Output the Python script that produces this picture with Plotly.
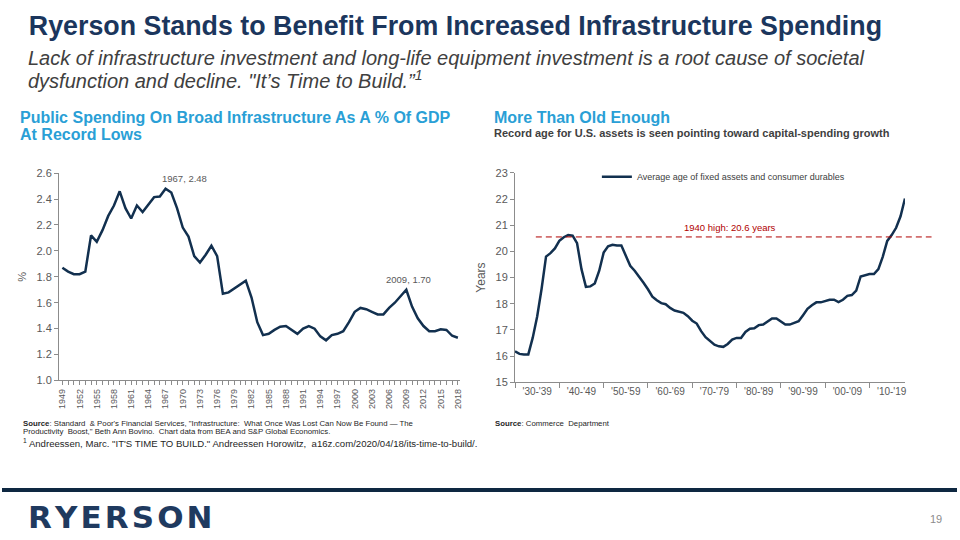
import plotly.graph_objects as go

# ---------------- data ----------------
gdp_years = list(range(1949, 2019))
gdp_share = [1.87, 1.84, 1.82, 1.82, 1.84, 2.12, 2.07, 2.16, 2.27, 2.35,
             2.46, 2.33, 2.25, 2.35, 2.30, 2.36, 2.415, 2.42, 2.48, 2.45,
             2.33, 2.18, 2.11, 1.96, 1.91, 1.97, 2.04, 1.96, 1.67, 1.68,
             1.71, 1.74, 1.77, 1.64, 1.45, 1.35, 1.36, 1.39, 1.415, 1.42,
             1.39, 1.36, 1.40, 1.42, 1.40, 1.34, 1.31, 1.35, 1.36, 1.38,
             1.45, 1.53, 1.56, 1.55, 1.53, 1.51, 1.51, 1.56, 1.60, 1.65,
             1.70, 1.57, 1.48, 1.42, 1.38, 1.38, 1.395, 1.39, 1.345, 1.33]
gdp_tick_years = list(range(1949, 2019, 3))
gdp_callouts = [(1967, 2.48), (2009, 1.70)]

age_years = list(range(1930, 2019))
avg_age = [16.18, 16.08, 16.06, 16.06, 16.70, 17.51, 18.57, 19.80, 19.93, 20.11,
           20.40, 20.54, 20.62, 20.60, 20.31, 19.32, 18.64, 18.66, 18.77, 19.26,
           19.95, 20.19, 20.25, 20.22, 20.22, 19.84, 19.45, 19.26, 19.04, 18.80,
           18.55, 18.27, 18.13, 18.02, 17.98, 17.84, 17.74, 17.70, 17.65, 17.52,
           17.35, 17.24, 16.95, 16.72, 16.56, 16.43, 16.37, 16.35, 16.46, 16.63,
           16.69, 16.69, 16.92, 17.04, 17.06, 17.18, 17.20, 17.32, 17.43, 17.43,
           17.30, 17.20, 17.20, 17.26, 17.33, 17.56, 17.80, 17.94, 18.05, 18.05,
           18.10, 18.15, 18.15, 18.06, 18.15, 18.30, 18.33, 18.50, 19.04, 19.10,
           19.13, 19.13, 19.32, 19.80, 20.40, 20.62, 20.90, 21.34, 22.02]
decade_starts = list(range(1930, 2020, 10))
decade_labels = ["'30-'39", "'40-'49", "'50-'59", "'60-'69", "'70-'79",
                 "'80-'89", "'90-'99", "'00-'09", "'10-'19"]
high_1940 = 20.55
high_label = "1940 high: 20.6 years"
series_name = "Average age of fixed assets and consumer durables"

# ---------------- styling ----------------
W, H = 960, 540
NAVY = "#12304F"
TEAL = "#2A9FD6"
GREY = "#595959"
DARK = "#404040"
RED = "#B00000"
AXC = "#8C8C8C"
FONT = "Liberation Sans, Arial, sans-serif"

def px_x(p):
    return p / W

def px_y(p):
    # paper y for a pixel row of the slide (small correction for the capture)
    return 1 - ((p - 5.3) / 0.981) / H

left_dom_x = [px_x(57.3), px_x(460)]
left_dom_y = [px_y(381), px_y(173)]
right_dom_x = [px_x(515.7), px_x(907.7)]
right_dom_y = [px_y(382.7), px_y(172.7)]

fig = go.Figure()

fig.add_trace(go.Scatter(
    x=gdp_years, y=gdp_share, mode="lines",
    line=dict(color=NAVY, width=2.5), xaxis="x", yaxis="y",
    showlegend=False))

fig.add_trace(go.Scatter(
    x=age_years, y=avg_age, mode="lines", name=series_name,
    line=dict(color=NAVY, width=2.5), xaxis="x2", yaxis="y2",
    showlegend=True))

def base_axis(size):
    return dict(showgrid=False, zeroline=False, showline=True,
                linecolor=AXC, linewidth=1, tickcolor=AXC,
                tickfont=dict(family=FONT, size=size, color=GREY))

fig.update_layout(
    width=W, height=H,
    margin=dict(l=0, r=0, t=0, b=0),
    paper_bgcolor="white", plot_bgcolor="white",
    font=dict(family=FONT, color=GREY),
    title=dict(text="<b>Ryerson Stands to Benefit From Increased Infrastructure Spending</b>",
               x=px_x(27), xanchor="left", xref="paper",
               y=px_y(25), yanchor="middle", yref="paper",
               font=dict(family=FONT, size=26.8, color="#1B365D")),
    xaxis=dict(**base_axis(9),
               domain=left_dom_x, anchor="y",
               range=[1948.41, 2018.3],
               tickvals=gdp_tick_years, tickangle=-90,
               ticks="outside", ticklen=4,
               minor=dict(dtick=1, tick0=1949, ticks="outside", ticklen=4,
                          tickcolor=AXC)),
    yaxis=dict(**base_axis(11), domain=left_dom_y, anchor="x",
               ticks="outside", ticklen=4,
               range=[1.0, 2.6], dtick=0.2, tickformat=".1f",
               title=dict(text="%", standoff=7,
                          font=dict(family=FONT, size=11, color=GREY))),
    xaxis2=dict(**base_axis(10),
                domain=right_dom_x, anchor="y2",
                range=[1930, 2018],
                tickvals=[d + 5 for d in decade_starts], ticktext=decade_labels,
                ticks="", ticklen=0,
                minor=dict(tickvals=decade_starts, ticks="outside", ticklen=5,
                           tickcolor=AXC)),
    yaxis2=dict(**base_axis(11), domain=right_dom_y, anchor="x2",
                ticks="outside", ticklen=4,
                range=[15, 23], dtick=1,
                title=dict(text="Years", standoff=7,
                           font=dict(family=FONT, size=12, color=GREY))),
    legend=dict(x=px_x(598), y=px_y(162), xanchor="left", yanchor="top",
                bgcolor="rgba(0,0,0,0)", itemwidth=30,
                font=dict(family=FONT, size=9, color=DARK)),
)

# 1940 high reference line (extends past the last data year as in the source)
x_span = right_dom_x[1] - right_dom_x[0]
def age_x_paper(year):
    return right_dom_x[0] + (year - 1930) / (2018 - 1930) * x_span

fig.add_shape(type="line", xref="paper", yref="y2",
              x0=age_x_paper(1934.7), x1=age_x_paper(2024), y0=high_1940, y1=high_1940,
              line=dict(color=RED, width=1, dash="6px,4px"))
fig.add_annotation(x=1978.6, y=high_1940, xref="x2", yref="y2", text=high_label,
                   showarrow=False, yanchor="bottom", yshift=2,
                   font=dict(family=FONT, size=9.5, color=RED))

# callouts on the left chart
for (yr, val), dx in zip(gdp_callouts, [19, 2]):
    fig.add_annotation(x=yr, y=val, xref="x", yref="y",
                       text=f"{yr}, {val:.2f}", showarrow=False,
                       xshift=dx, yshift=3, yanchor="bottom",
                       font=dict(family=FONT, size=9.5, color=GREY))

# bottom rule
fig.add_shape(type="line", xref="paper", yref="paper",
              x0=0, x1=1, y0=px_y(491), y1=px_y(491),
              line=dict(color="#0E2841", width=4))

def text(x, y, s, size, color, family=FONT, xanchor="left", yanchor="middle"):
    fig.add_annotation(x=px_x(x), y=px_y(y), xref="paper", yref="paper",
                       text=s, showarrow=False, xanchor=xanchor, yanchor=yanchor,
                       align="left", font=dict(family=family, size=size, color=color))

text(24, 57, "<i>Lack of infrastructure investment and long-life equipment investment is a root cause of societal</i>",
     20, DARK)
text(24, 79, "<i>dysfunction and decline. \"It\u2019s Time to Build.\u201d<sup>1</sup></i>",
     20, DARK)
text(16, 117, "<b>Public Spending On Broad Infrastructure As A % Of GDP</b>", 16, TEAL)
text(16, 134, "<b>At Record Lows</b>", 16, TEAL)
text(493, 117, "<b>More Than Old Enough</b>", 16, TEAL)
text(493, 133, "<b>Record age for U.S. assets is seen pointing toward capital-spending growth</b>",
     11, DARK)

text(19, 424, "<b>Source</b>: Standard  &amp; Poor's Financial Services, \"Infrastructure:  What Once Was Lost Can Now Be Found \u2014 The",
     7.8, "#262626")
text(19, 432.5, "Productivity  Boost,\" Beth Ann Bovino.  Chart data from BEA and S&amp;P Global Economics.",
     7.8, "#262626")
text(19, 444, "<sup>1</sup> Andreessen, Marc. \"IT'S TIME TO BUILD.\" Andreessen Horowitz,  a16z.com/2020/04/18/its-time-to-build/.",
     9.6, "#262626")
text(494, 424, "<b>Source</b>: Commerce  Department", 7.8, "#262626")

text(24, 518, "<b>R\u200aY\u200aE\u200aR\u200aS\u200aO\u200aN</b>", 31, "#1F3A5F",
     family="DejaVu Sans, sans-serif")
text(947, 520, "19", 11, "#8C8C8C", xanchor="right")

fig.write_html(
    "out.html",
    config={"displayModeBar": False},
    post_script=("document.documentElement.style.overflow='hidden';"
                 "document.body.style.margin='0';"
                 "document.body.style.height='540px';"
                 "document.body.style.overflow='hidden';"))
